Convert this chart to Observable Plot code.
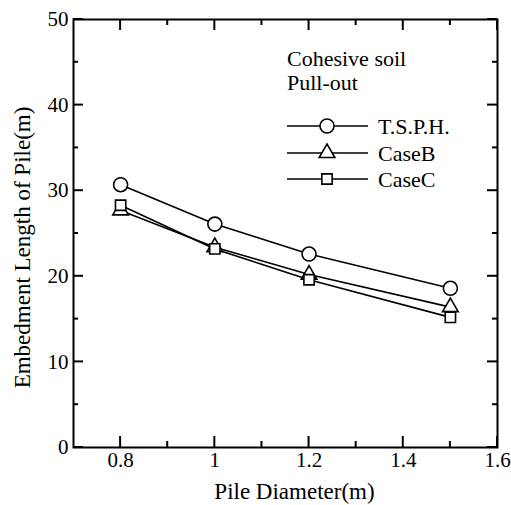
<!DOCTYPE html>
<html><head><meta charset="utf-8">
<script src="https://cdn.jsdelivr.net/npm/d3@7"></script>
<script src="https://cdn.jsdelivr.net/npm/@observablehq/plot@0.6"></script>
<style>
body{margin:0;background:#fff;}
</style></head>
<body><div id="chart"></div>
<script>
const diameters = [0.8, 1.0, 1.2, 1.5];
const tsph = [30.7, 26.1, 22.6, 18.6];
const caseB = [27.7, 23.4, 20.2, 16.4];
const caseC = [28.3, 23.2, 19.6, 15.2];
const seriesNames = ["T.S.P.H.", "CaseB", "CaseC"];
const seriesSymbols = ["circle", "triangle", "square"];
const xMajor = [0.8, 1.0, 1.2, 1.4, 1.6];
const xMinor = [0.9, 1.1, 1.3, 1.5];
const yMajor = [0, 10, 20, 30, 40, 50];
const yMinor = [5, 15, 25, 35, 45];
const legendTitle = ["Cohesive soil", "Pull-out"];
const xLabel = "Pile Diameter(m)";
const yLabel = "Embedment Length of Pile(m)";

const symR = {circle: 7, triangle: 5.8, square: 5.8};
const rows = [];
[tsph, caseB, caseC].forEach((vals, i) => {
  vals.forEach((v, j) => rows.push({series: seriesNames[i], symbol: seriesSymbols[i], r: symR[seriesSymbols[i]], x: diameters[j], y: v}));
});
const FONT = '"Liberation Serif","Times New Roman",serif';
const W = 511, H = 505, ML = 73, MR = 14, MT = 19, MB = 58;

function legend(index, scales, values, dims) {
  const g = d3.create("svg:g").style("font-family", FONT).style("font-size", "22px").attr("text-anchor", "start");
  const x0 = 287;
  g.selectAll("text.t").data(legendTitle).join("text")
    .attr("x", x0).attr("y", (d, i) => 66 + i * 24)
    .attr("fill", "#000").text(d => d);
  const rowY = [126, 153, 179];
  seriesNames.forEach((name, i) => {
    const y = rowY[i];
    g.append("line").attr("x1", x0).attr("x2", x0 + 81).attr("y1", y).attr("y2", y)
      .attr("stroke", "#000").attr("stroke-width", 1.6);
    const s = seriesSymbols[i];
    const sym = d3.symbol(s === "circle" ? d3.symbolCircle : s === "triangle" ? d3.symbolTriangle : d3.symbolSquare,
      Math.PI * symR[s] ** 2)();
    g.append("path").attr("d", sym).attr("transform", `translate(${x0 + 40},${y})`)
      .attr("fill", "#fff").attr("stroke", "#000").attr("stroke-width", 1.6);
    g.append("text").attr("x", x0 + 91).attr("y", y + 7.5).attr("fill", "#000").text(name);
  });
  return g.node();
}

const plot = Plot.plot({
  width: W, height: H,
  marginLeft: ML, marginRight: MR, marginTop: MT, marginBottom: MB,
  x: {domain: [0.7, 1.6]},
  y: {domain: [0, 50]},
  r: {type: "identity"},
  symbol: {type: "identity"},
  style: {fontFamily: FONT, fontSize: "21px", color: "#000", background: "#fff"},
  marks: [
    Plot.axisX(xMajor, {anchor: "bottom", tickSize: 0, tickPadding: 5, tickFormat: d => String(d), label: null}),
    Plot.axisY(yMajor, {anchor: "left", tickSize: 0, tickPadding: 5, label: null}),
    Plot.text([xLabel], {text: d => d, frameAnchor: "bottom", lineAnchor: "middle", textAnchor: "middle", dy: 44, dx: 9, fontSize: 23}),
    Plot.text([yLabel], {text: d => d, frameAnchor: "left", lineAnchor: "middle", textAnchor: "middle", rotate: -90, dx: -51, dy: 14, fontSize: 23}),
    Plot.frame({stroke: "#000", strokeWidth: 2}),
    Plot.line(rows, {x: "x", y: "y", z: "series", stroke: "#000", strokeWidth: 1.6}),
    Plot.dot(rows, {x: "x", y: "y", symbol: "symbol", r: "r", fill: "#fff", stroke: "#000", strokeWidth: 1.6}),
    legend
  ]
});

// inward ticks on all four sides, positioned through the plot's own scales
const xScale = plot.scale("x"), yScale = plot.scale("y");
const frameTop = MT, frameBottom = H - MB, frameLeft = ML, frameRight = W - MR;
const tickGroup = d3.select(plot).append("g").attr("stroke", "#000").attr("stroke-width", 2);
function addXTicks(arr, len) {
  arr.forEach(v => {
    const px = xScale.apply(v);
    tickGroup.append("line").attr("x1", px).attr("x2", px).attr("y1", frameBottom).attr("y2", frameBottom - len);
    tickGroup.append("line").attr("x1", px).attr("x2", px).attr("y1", frameTop).attr("y2", frameTop + len);
  });
}
function addYTicks(arr, len) {
  arr.forEach(v => {
    const py = yScale.apply(v);
    tickGroup.append("line").attr("y1", py).attr("y2", py).attr("x1", frameLeft).attr("x2", frameLeft + len);
    tickGroup.append("line").attr("y1", py).attr("y2", py).attr("x1", frameRight).attr("x2", frameRight - len);
  });
}
addXTicks(xMajor, 11); addXTicks(xMinor, 6); addYTicks(yMajor, 10); addYTicks(yMinor, 5);

document.getElementById("chart").appendChild(plot);
</script></body></html>
